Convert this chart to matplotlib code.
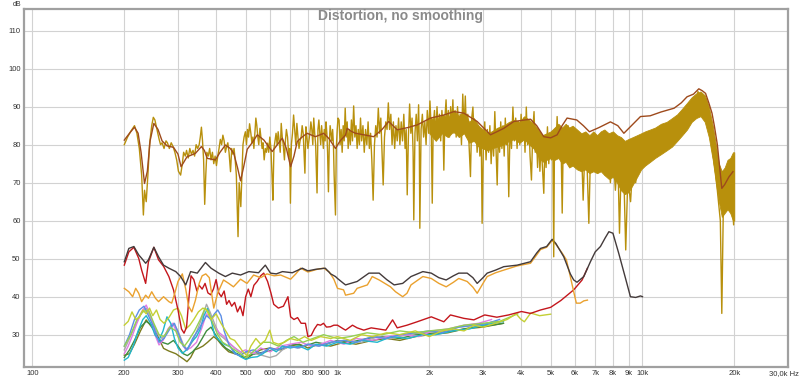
import numpy as np
import matplotlib
matplotlib.use('Agg')
import matplotlib.pyplot as plt

plt.rcParams['font.family'] = ['Liberation Sans', 'DejaVu Sans']

# ---------------- data (frequency Hz, level dB) ----------------
x_ticks = [100, 200, 300, 400, 500, 600, 700, 800, 900, 1000, 2000, 3000, 4000,
           5000, 6000, 7000, 8000, 9000, 10000, 20000]
x_tick_labels = ['100', '200', '300', '400', '500', '600', '700', '800', '900', '1k',
                 '2k', '3k', '4k', '5k', '6k', '7k', '8k', '9k', '10k', '20k']
x_end_label = '30,0k Hz'
y_ticks = [30, 40, 50, 60, 70, 80, 90, 100, 110]

# fundamental, unsmoothed (gold)
gold_low = [(200,80),(205,82),(210,83.5),(216,85),(220,83),(224,79),(228,72),(231,61.5),(233,68),(236,65),
    (239,72),(242,80),(246,85),(249,87.2),(252,86.5),(256,84),(260,81.5),(263,80),(266,80.5),(270,79),
    (274,81),(277,80.5),(281,79),(285,80.5),(289,79.5),(293,78),(297,76),(301,73),(306,72),(310,75),
    (313,78),(317,77),(320,78.5),(324,76.5),(328,79),(332,77.5),(336,78.5),(340,77),(344,80),(348,79),
    (352,80),(355,82),(358,84.6),(361,81),(364,76),(367,64.3),(370,72),(373,78),(377,77),(381,79),
    (385,76),(389,78),(393,75),(397,77),(401,74.5),(405,77),(409,79),(413,81.4),(417,80),(421,82.5),
    (425,81),(429,78),(433,79.5),(437,80.5),(441,78),(446,72.9),(450,79),(454,77.5),(458,79),(462,76),
    (466,72),(472,55.8),(476,70),(482,63.7),(486,72),(490,80),(494,82),(499,83.4),(503,80),(507,84),
    (511,82),(515,85.5),(520,83),(524,80.5),(528,82),(532,79),(536,83),(540,87),(544,85),(548,82),
    (552,80),(557,84.3),(561,82),(566,79),(570,80.5),(575,76),(580,79),(585,78),(590,80.4),(595,78),
    (600,82),(605,79),(610,72),(614,65.4),(619,79),(624,81),(629,83),(634,80),(639,83.4),(644,81),
    (649,78),(654,85.6),(659,82),(664,80),(670,76),(675,81),(680,84),(686,82),(692,77),(697,79),
    (701,64.6),(706,80),(712,83),(718,87.8),(724,84),(730,80),(736,85.6),(742,82),(748,79),(754,81),
    (760,82),(766,85),(772,83),(778,77),(782,72.5),(788,84.7),(794,82),(800,79),(806,81),(812,83),
    (818,86),(824,84),(830,80),(836,87),(842,83),(848,80),(857,67.3),(863,84),(869,86.5),(875,83),
    (881,80),(887,85),(893,82),(899,79),(905,84),(911,81),(917,86),(923,83),(928,78),(934,67.6),
    (940,80),(946,85),(952,83),(958,81),(964,84),(970,80),(975,72),(985,61.5),(991,79),(998,84),(1004,87)]
gold_mid = [(1012,86.5),(1020,80),(1028,84),(1036,78),(1044,85),(1052,81),(1060,89.6),(1068,82),(1076,86),
    (1084,79),(1093,84),(1102,80),(1111,86.5),(1120,81),(1130,90.2),(1140,82),(1150,85),(1160,79),(1170,84),
    (1180,80),(1190,87),(1200,81),(1212,85),(1224,78),(1236,84),(1248,80),(1260,86),(1272,79),(1284,83),
    (1296,76),(1309,65.4),(1322,80),(1335,85),(1348,82),(1361,89.6),(1374,83),(1387,87),(1400,78),
    (1412,69.4),(1426,82),(1440,86),(1454,84),(1468,91),(1482,84),(1496,88),(1510,80),(1525,86),(1540,79),
    (1555,85),(1570,81),(1586,87),(1602,80),(1618,86),(1634,81),(1650,88),(1666,79),(1680,84),(1693,66.8),
    (1708,82),(1724,90.7),(1740,83),(1756,87),(1770,78),(1779,60.2),(1795,83),(1812,88),(1828,81),
    (1845,90.5),(1855,80),(1862,58),(1880,84),(1898,88),(1916,82),(1934,86),(1952,80),(1970,89),(1990,83),
    (2010,91.5),(2030,84),(2045,64.6),(2060,85),(2080,89),(2100,82),(2120,90),(2140,84),(2160,88),
    (2180,81),(2200,89),(2220,83),(2232,73.3),(2250,87),(2270,91.8),(2290,84),(2310,89),(2330,82),
    (2350,90),(2370,85),(2390,91.8),(2410,83),(2430,89),(2450,82),(2475,90),(2500,84),(2525,88),(2550,80),
    (2575,93.3),(2600,84),(2625,92.8),(2650,82),(2675,88),(2700,80),(2729,71.6),(2755,87),(2780,89.9),
    (2810,81),(2840,86),(2870,78),(2900,85),(2930,77),(2960,83),(2980,59.3),(3010,81),(3040,86),(3070,76),
    (3100,84),(3130,78),(3160,85),(3190,75),(3220,83),(3250,77),(3280,88.7),(3310,79),(3339,69.4),
    (3370,84),(3400,78),(3430,86),(3460,79),(3490,85),(3520,77),(3550,87),(3580,80),(3610,84),(3644,66.3),
    (3680,85),(3720,79),(3760,89.9),(3800,81),(3840,87),(3880,79),(3920,86),(3960,80),(4000,88),(4040,81),
    (4080,87),(4120,78),(4160,89.9),(4200,80),(4240,86),(4280,77),(4325,70.7),(4370,84),(4410,88.7),
    (4450,78),(4490,83),(4530,74),(4570,82),(4610,73),(4650,80),(4700,74),(4747,67.2),(4790,81),(4830,74),
    (4880,84.7),(4930,75),(4980,82),(5030,76),(5080,83),(5117,50.5),(5150,84),(5200,78),(5250,87.4)]
gold_high = [(5300,79),(5400,84),(5455,62),(5500,82),(5600,76),(5700,85),(5800,78),(5900,84),(6000,75),
    (6100,83),(6200,74),(6300,81),(6390,65.4),(6480,80),(6580,75),(6670,59.3),(6760,79),(6900,82),
    (7000,73),(7100,81),(7250,74),(7400,82),(7550,72),(7700,80),(7850,70),(8000,79),(8150,68),(8300,77),
    (8407,56.7),(8500,72),(8650,78),(8812,52.3),(8950,71),(9140,65),(9300,75),(9500,70),(9700,79),
    (9850,74),(10000,80),(10300,76),(10600,82),(11000,77),(11400,84),(11800,79),(12200,85),(12700,81),
    (13200,88),(13700,83),(14200,91),(14700,87),(15200,94),(15500,92),(15800,89),(16200,92),(16600,84),
    (17000,78),(17400,72),(17800,64),(18000,60),(18200,35.6),(18400,62),(18700,70),(19000,65),
    (19300,75),(19600,68),(19900,58.9),(20000,77)]

# dense part of the fundamental trace (upper / lower edge of the band)
band_freq  = [2000, 2100, 2200, 2300, 2400, 2500, 2600, 2700, 2800, 2900, 3000, 3100, 3200, 3350, 3500,
              3650, 3800, 3950, 4100, 4250, 4400, 4550, 4700, 4850, 5000, 5150, 5300, 5450, 5600, 5750,
              5900, 6100, 6300, 6500, 6700, 6900, 7100, 7300, 7500, 7750, 8000, 8250, 8500, 8750, 9000,
              9300, 9600, 9900, 10200, 10600, 11000, 11500, 12000, 12500, 13000, 13500, 14000, 14500,
              15000, 15500, 16000, 16500, 17000, 17400, 17800, 18200, 18600, 19000, 19400, 19800, 20000]
band_upper = [87.5, 86, 88, 87, 89, 87.5, 89, 86, 87, 85, 84, 83, 83.5, 84.5, 85,
              86, 86.5, 86, 87.5, 86.5, 85.5, 84, 82.5, 83, 83.5, 84.5, 85.5, 84.5, 85.5, 84.5,
              85, 84, 83, 83.5, 82.5, 83.5, 82.5, 83.5, 84, 83, 83.5, 82.5, 82, 81, 81.5,
              82, 82.5, 83, 83.5, 84, 84.5, 85.5, 86, 87, 88, 89.5, 91, 92.5,
              93.5, 94, 93, 90, 85, 80, 75, 73, 74, 76, 76.5, 78, 78]
band_lower = [83, 81, 83, 82, 83.5, 82, 83, 80.5, 81, 79.5, 79, 78.5, 79, 79.5, 80,
              81, 81.5, 80.5, 81.5, 80, 79, 77, 75.5, 76, 76.5, 76, 76.5, 75, 75.5, 74,
              74.5, 73.5, 73, 73.5, 72.5, 73, 72.5, 73, 72, 71, 71.5, 70, 68, 67, 67.5,
              69.5, 71.5, 73.5, 74.5, 75.5, 76.5, 77.5, 78.5, 79.5, 81, 82.5, 84, 86,
              87, 87.5, 86, 82, 76, 70, 65, 61, 62, 63, 62, 60, 60]

# fundamental, smoothed (brown)
brown = [(200,81.2),(208,83),(216,84.6),(222,83),(227,78),(233,69.8),(238,73),(243,81),(250,85.6),(258,84),
    (266,81),(276,79.7),(290,79.3),(300,77.5),(307,74.2),(314,75.5),(321,76.8),(342,77.7),(358,79.5),
    (366,78.5),(374,76.4),(398,76),(412,78),(429,79.9),(445,79),(457,77.7),(470,74),(481,70.5),(492,74),
    (506,78.8),(525,80.5),(546,82.6),(574,81.2),(611,78.2),(635,80),(659,81.7),(680,79),(702,74.2),
    (720,77),(738,80.8),(760,81.8),(795,83),(847,82.1),(902,83),(940,81.5),(985,79),(1020,81),(1062,82.5),
    (1076,84.3),(1110,83.5),(1146,83),(1220,82.6),(1314,82.1),(1400,84),(1472,86.1),(1570,83.9),
    (1700,84.5),(1825,85.2),(2018,87),(2232,87.8),(2407,88.7),(2596,88.3),(2871,86.1),(3050,84),
    (3175,82.6),(3350,83.5),(3510,84.3),(3785,86.1),(4296,86.7),(4500,85),(4747,82.1),(5000,81.8),
    (5250,82.6),(5450,85),(5660,87),(6090,86.5),(6400,85),(6700,83.4),(7200,84.5),(7850,86),(8300,85),
    (8690,83),(9200,85),(9850,87.4),(10600,87.6),(11500,88.6),(12700,89.6),(13400,91),(14000,92.6),
    (14700,93.3),(15300,94.7),(15700,94.2),(16100,93.5),(16500,91),(16900,88.3),(17200,85),(17600,80),
    (17900,74.2),(18200,68.5),(18600,69.5),(19200,71.5),(19800,72.9)]

# total distortion (dark grey)
thd = [(200,49.2),(207,52.7),(215,53.2),(223,51),(228,50.1),(235,48.8),(240,49.7),(250,53),(259,50.5),
    (269,48.3),(280,47.5),(295,46.6),(306,45.3),(318,43.1),(330,46.6),(347,46.2),(369,49),(385,47.5),
    (408,46.2),(429,45.3),(452,46.2),(481,45.7),(512,46.6),(551,46.3),(580,48.3),(603,46.2),(630,46),
    (660,46.6),(711,46.3),(767,47.5),(800,46.8),(847,47.2),(912,47.5),(950,46),(985,45.3),(1000,44.8),
    (1047,43.5),(1063,43.1),(1160,44),(1268,46.2),(1370,46.2),(1450,44.5),(1534,43.1),(1636,43.5),
    (1742,45.3),(1905,46.6),(2030,46.2),(2150,45),(2272,44.4),(2400,45.5),(2498,46.2),(2662,46.2),
    (2780,45),(2871,43.5),(3000,45),(3096,46.2),(3300,47),(3510,47.9),(3882,48.3),(4294,49.2),
    (4500,51.5),(4630,52.7),(4850,53.2),(5058,55.1),(5200,54),(5520,50.5),(5800,46),(5950,44.4),
    (6100,43.8),(6420,45.3),(6750,49.2),(7000,51.8),(7280,53.2),(7550,55.5),(7760,57.1),(8000,56.7),
    (8360,51.4),(8800,44.8),(9130,40),(9500,39.8),(9850,40.2),(10000,40)]

# 2nd harmonic (orange)
h2 = [(200,42.2),(207,41.3),(213,40),(218,42.2),(223,40.9),(228,38.7),(235,40.4),(240,39.6),(246,41.3),
    (253,39.6),(259,38.7),(269,40),(280,38.7),(286,38.3),(293,41),(300,44),(310,46),(318,42),(325,37.5),
    (333,36),(342,39),(352,43.5),(360,45.5),(370,46),(380,45),(393,37),(405,41),(423,44.4),(440,43.5),
    (456,42.6),(481,44.6),(505,43.5),(531,45.7),(560,45),(587,46),(620,45.5),(651,45.7),(702,44.6),
    (730,46),(757,47.5),(800,46.5),(857,47.2),(901,47.5),(940,46.5),(973,44.6),(1000,42.2),(1047,41.8),
    (1063,40.4),(1130,40.9),(1160,42.2),(1253,43.1),(1300,45.3),(1370,44.4),(1492,42.6),(1550,41.3),
    (1636,40),(1690,40.9),(1742,43.1),(1905,45.3),(2030,44.8),(2150,43.5),(2272,42.6),(2400,43.8),
    (2498,44.8),(2662,44),(2780,42.5),(2871,40.9),(3000,43.5),(3096,45.3),(3300,46.3),(3510,47),
    (3882,48.1),(4294,48.8),(4500,51),(4630,52.4),(4850,53),(5058,54.8),(5200,53.8),(5450,51.5),
    (5630,49.7),(5800,45.3),(5950,41.3),(6070,38.3),(6250,38.3),(6420,38.9),(6600,39.1)]

# 3rd harmonic (red)
h3 = [(200,48.3),(207,51.8),(215,53),(223,50.1),(228,47),(235,43.5),(240,49.2),(250,53),(259,49.7),
    (269,48),(280,45.3),(290,41.8),(300,36.5),(308,31.5),(314,30.4),(320,32),(326,40),(331,45.5),
    (338,44.5),(346,41.5),(352,43),(360,42),(368,43.5),(376,41),(384,40.5),(392,42),(400,44.5),(408,41),
    (416,40),(425,41.5),(433,38),(441,39),(450,37.5),(460,38.5),(470,36),(480,37.5),(490,35),(500,40),
    (510,42),(520,40),(532,43),(545,44),(560,45.5),(573,46.2),(590,44),(605,41),(618,38),(640,37),
    (665,37.5),(688,40),(702,34.7),(720,34),(740,34.5),(760,33),(785,33),(800,29.5),(820,29.8),
    (840,31.5),(860,32.7),(880,32.5),(900,33),(920,32),(948,32.1),(973,32.5),(1000,32.5),(1047,31.5),
    (1063,31.2),(1120,32.5),(1160,31.8),(1220,31.2),(1290,31.8),(1440,31.2),(1516,33.9),(1570,31.8),
    (1690,32.5),(1825,33.4),(2030,34.7),(2232,33.4),(2346,35.2),(2596,34.3),(2800,33.9),(3040,35.2),
    (3330,34.6),(3640,35.2),(4010,36.1),(4294,35.6),(4630,36.5),(5000,37.2),(5400,39),(5950,41.8),
    (6340,44.4),(6600,47.5)]

# higher harmonics
h_yellowgreen = [(200,32.5),(206,33.5),(212,36),(218,34),(224,34.5),(230,36.5),(236,35.5),(242,37),
    (248,35),(255,36.5),(262,34),(270,33),(280,34.5),(290,36.5),(300,37),(308,35),(318,31.5),(328,32.5),
    (338,34),(350,36),(362,37),(372,36.5),(385,34),(400,35.5),(415,33),(430,31),(445,29),(460,28.5),
    (475,27),(490,25.5),(505,24.5),(520,27),(540,29),(560,27.5),(580,28.5),(600,31.2),(615,28),(640,27.5),
    (670,28),(700,29),(740,28.5),(780,29.5),(820,28.5),(880,29.5),(950,29),(1000,29.5),(1100,28.5),
    (1200,30),(1300,29.5),(1450,30.5),(1600,30),(1800,31),(2000,29.5),(2200,31),(2400,31.5),(2600,31),
    (2800,32.5),(3000,32),(3300,33),(3600,34),(3850,35.5),(4000,34),(4100,33.4),(4300,35.7),(4600,35),
    (5000,35.4)]
h_lightgreen = [(200,27),(210,30),(220,34),(230,36),(240,36.5),(250,33),(260,30),(270,29.5),(282,32),
    (295,31),(305,28),(315,27),(325,28.5),(340,31),(355,34),(368,37),(378,36),(390,33),(405,30),(420,28),
    (440,27),(460,26),(480,25),(500,24),(520,25),(545,26.5),(570,28),(600,28),(640,27),(680,28.5),
    (720,29.5),(770,28),(830,29),(900,30),(1000,29),(1100,29.5),(1250,30.5),(1400,30),(1600,31),
    (1800,30.5),(2000,31),(2300,31.5),(2600,32.5),(3000,33),(3400,33.5),(3900,35.5)]
h_blue = [(200,27),(208,30),(216,34),(224,36.5),(232,37.5),(240,35),(250,32),(260,28),(270,29),
    (282,31.5),(292,33),(302,30),(312,27),(322,26),(335,29),(348,31),(360,33),(372,35),(385,34),
    (395,35.5),(405,36.5),(415,35),(425,31),(440,27.5),(460,25),(480,24.5),(500,25.5),(530,26),(560,25),
    (600,26.5),(640,26),(690,27),(740,26.5),(800,27.5),(870,27),(950,28),(1050,28.5),(1150,28),
    (1300,29.5),(1450,29),(1600,30),(1800,30.5),(2000,31),(2200,30.5),(2500,32),(2800,32.5),(3100,33),
    (3400,34)]
h_cyan = [(200,23.3),(206,24),(214,27),(222,31),(230,34),(236,35),(244,33),(252,30),(260,28.6),(268,31),
    (276,34.7),(284,33),(292,29),(300,26.5),(310,25.1),(320,26),(332,28),(345,29.5),(355,31.5),(365,35),
    (375,36.9),(385,34),(395,30),(410,28.5),(425,27.5),(446,26.8),(465,25),(481,24.2),(500,23.5),
    (520,24),(546,24.2),(570,25),(600,26.5),(630,25.5),(660,27),(700,26.5),(750,27),(800,26),(850,27.5),
    (920,27),(1000,28),(1100,27.5),(1200,28.5),(1350,28),(1500,29.5),(1700,29),(1900,30),(2100,30),
    (2400,31),(2700,31.5),(3000,32.5),(3500,33.5)]
h_violet = [(200,25),(206,27),(212,29.5),(220,33),(228,36),(236,37.8),(244,35),(252,30),(260,27.3),
    (268,28.5),(278,31.5),(288,33),(298,30.5),(308,28),(318,26),(330,26.5),(345,28),(360,32),(372,35.5),
    (384,34),(396,32),(410,30.5),(425,29.5),(440,28),(460,26.5),(480,25.5),(500,26),(530,25),(560,26.5),
    (600,25.5),(650,27),(700,27.5),(760,28),(820,27),(880,27.5),(950,28.5),(1050,27.5),(1150,29),
    (1300,28.5),(1450,29.5),(1650,30),(1850,29.5),(2050,31),(2300,31.5),(2600,32.5),(2900,33),(3200,34)]
h_grey = [(200,26),(208,29),(216,32),(226,35.5),(236,37),(246,34),(256,30.5),(266,29),(278,31),(290,33),
    (300,31),(312,27.5),(322,26),(336,28.5),(350,32),(362,35),(372,38),(382,36),(395,33),(410,30),
    (425,29),(445,27.5),(470,26),(490,25),(510,25.5),(540,25),(570,24.5),(600,24),(630,24.5),(660,26),
    (700,27),(750,26.5),(800,27.5),(870,27),(950,28),(1050,28.5),(1200,28),(1350,29.5),(1500,29),
    (1700,30),(1900,30.5),(2200,31),(2500,32),(2900,32.5),(3300,33.5)]
h_olive = [(200,24.6),(208,25),(216,27.5),(226,31),(236,33.9),(246,32),(256,30),(269,26.4),(280,25.7),
    (295,25),(305,24.2),(314,23.5),(321,22.9),(330,24),(340,26),(350,26.4),(362,27),(375,28),(393,29.5),
    (405,28.6),(420,27),(440,25.5),(460,25),(480,24.5),(505,23.7),(530,25),(560,26),(600,26.5),(650,26),
    (700,27),(750,27.5),(800,26.5),(870,27.5),(950,27),(1050,28),(1150,27.5),(1300,28.5),(1450,29),
    (1600,28.5),(1800,29.5),(2000,30),(2300,30.5),(2600,31.5),(3000,32),(3500,33)]
h_darkgreen = [(200,24),(208,26),(216,28.5),(226,32),(236,33.5),(246,32.5),(256,29.5),(266,28),
    (278,27.5),(290,28.5),(300,27),(312,25),(322,24.5),(335,25.5),(348,27),(360,29),(372,31),(385,32),
    (398,30),(412,28),(430,26.5),(450,25.5),(470,25),(490,24),(510,24.5),(540,25),(580,25.5),(620,26),
    (670,26.5),(720,27.5),(780,27),(850,28),(920,27.5),(1000,28.5),(1100,28),(1250,29),(1400,29.5),
    (1600,29),(1800,30),(2100,30.5),(2400,31),(2800,32),(3200,32.5),(3500,33)]

# ---------------- drawing ----------------
def xy(pts):
    pts = sorted(pts)
    return [p[0] for p in pts], [p[1] for p in pts]

fig = plt.figure(figsize=(8, 3.8), dpi=100)
ax = fig.add_axes([24/800, 13/380, 764/800, 358/380])
ax.set_xscale('log')
ax.set_xlim(93.8, 30000)
ax.set_ylim(21.5, 115.7)

ax.set_xticks(x_ticks)
ax.set_xticklabels(x_tick_labels)
ax.xaxis.set_minor_locator(matplotlib.ticker.NullLocator())
ax.set_yticks(y_ticks)
ax.tick_params(length=0, labelsize=5.5, colors='#333333', pad=2.5)
ax.grid(True, color='#d2d2d2', lw=0.8)
ax.set_axisbelow(True)
for s in ax.spines.values():
    s.set_color('#a0a0a0')
    s.set_linewidth(1.6)

lw = 1.0
harmonics = [(h_olive, '#7c7b1e'), (h_darkgreen, '#3f8c3f'), (h_grey, '#a9a9a9'),
             (h_violet, '#e07ce2'), (h_cyan, '#20b6cd'), (h_blue, '#5b8ee6'),
             (h_lightgreen, '#94d052'), (h_yellowgreen, '#c4cf34')]
for pts, c in harmonics:
    f, v = xy(pts)
    ax.plot(f, v, color=c, lw=lw)

f, v = xy(h3); ax.plot(f, v, color='#c4161c', lw=lw)
f, v = xy(h2); ax.plot(f, v, color='#eaa12e', lw=lw)
f, v = xy(thd); ax.plot(f, v, color='#433a3a', lw=lw)

ax.fill_between(band_freq, band_lower, band_upper, color='#b8900c', lw=0.6, edgecolor='#b8900c')
f, v = xy(gold_low + gold_mid + gold_high)
ax.plot(f, v, color='#b8900c', lw=1.0)
f, v = xy(brown); ax.plot(f, v, color='#9e4a1c', lw=1.0)

fig.text(400/800, 1 - 16/380, 'Distortion, no smoothing', ha='center', va='center',
         fontsize=10, fontweight='bold', color='#8a8a8a')
fig.text(17/800, 1 - 4/380, 'dB', ha='center', va='center', fontsize=5, color='#333333')
fig.text(799/800, 1 - 374/380, x_end_label, ha='right', va='center', fontsize=5.5, color='#333333')

fig.savefig('out.png', dpi=100)
